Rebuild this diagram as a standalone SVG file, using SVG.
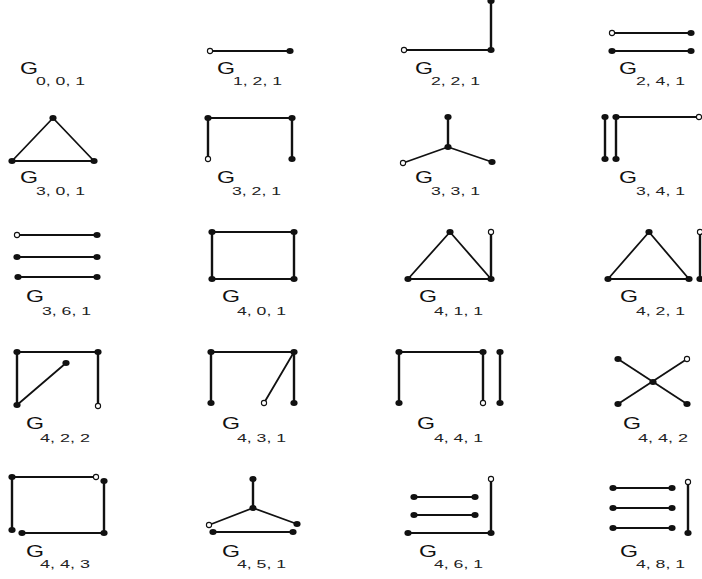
<svg xmlns="http://www.w3.org/2000/svg" xmlns:xlink="http://www.w3.org/1999/xlink" width="702" height="579" viewBox="0 0 702 579">
<style>
.e{stroke:#111;stroke-width:1.8;fill:none;stroke-linecap:round}
.v{stroke:#111;stroke-width:2.4;fill:none;stroke-linecap:round}
.g{font-family:"Liberation Sans",Arial,sans-serif;font-size:17px;fill:#111}
.s{font-family:"Liberation Sans",Arial,sans-serif;font-size:11px;fill:#222}
</style>
<defs>
<ellipse id="f" rx="3.6" ry="3" fill="#111"/>
<circle id="o" r="2.6" fill="#fff" stroke="#111" stroke-width="1.1"/>
</defs>
<rect width="702" height="579" fill="#fff"/>

<g id="connectors">
<line class="e" x1="210" y1="51" x2="290" y2="51"/>
<line class="v" x1="491" y1="1" x2="491" y2="50"/>
<line class="e" x1="404" y1="50" x2="491" y2="50"/>
<line class="e" x1="612" y1="33" x2="691" y2="33"/>
<line class="e" x1="612" y1="51" x2="691" y2="51"/>
<polygon class="e" points="53,118 12,161 94,161" stroke-linejoin="round"/>
<line class="e" x1="208" y1="118" x2="292" y2="118"/>
<line class="v" x1="208" y1="118" x2="208" y2="159"/>
<line class="v" x1="292" y1="118" x2="292" y2="159"/>
<line class="v" x1="448" y1="117" x2="448" y2="147"/>
<line class="e" x1="448" y1="147" x2="403" y2="163"/>
<line class="e" x1="448" y1="147" x2="492" y2="162"/>
<line class="v" x1="605" y1="117" x2="605" y2="159"/>
<line class="v" x1="616" y1="117" x2="616" y2="159"/>
<line class="e" x1="616" y1="117" x2="699" y2="117"/>
<line class="e" x1="17" y1="235" x2="97" y2="235"/>
<line class="e" x1="17" y1="257" x2="97" y2="257"/>
<line class="e" x1="18" y1="277" x2="97" y2="277"/>
<line class="e" x1="212" y1="232" x2="294" y2="232"/>
<line class="e" x1="212" y1="279" x2="294" y2="279"/>
<line class="v" x1="212" y1="232" x2="212" y2="279"/>
<line class="v" x1="294" y1="232" x2="294" y2="279"/>
<polygon class="e" points="450,232 408,279 491,279" stroke-linejoin="round"/>
<line class="v" x1="491" y1="232" x2="491" y2="279"/>
<polygon class="e" points="649,232 608,279 689,279" stroke-linejoin="round"/>
<line class="v" x1="700" y1="232" x2="700" y2="279"/>
<line class="e" x1="17" y1="352" x2="98" y2="352"/>
<line class="v" x1="17" y1="352" x2="17" y2="405"/>
<line class="v" x1="98" y1="352" x2="98" y2="406"/>
<line class="e" x1="17" y1="405" x2="66" y2="363"/>
<line class="e" x1="211" y1="352" x2="294" y2="352"/>
<line class="v" x1="211" y1="352" x2="211" y2="403"/>
<line class="v" x1="294" y1="352" x2="294" y2="403"/>
<line class="e" x1="294" y1="352" x2="264" y2="403"/>
<line class="e" x1="399" y1="352" x2="483" y2="352"/>
<line class="v" x1="399" y1="352" x2="399" y2="403"/>
<line class="v" x1="483" y1="352" x2="483" y2="403"/>
<line class="v" x1="500" y1="352" x2="500" y2="403"/>
<line class="e" x1="618" y1="359" x2="687" y2="404"/>
<line class="e" x1="687" y1="359" x2="618" y2="404"/>
<line class="e" x1="12" y1="477" x2="96" y2="477"/>
<line class="v" x1="12" y1="477" x2="12" y2="530"/>
<line class="v" x1="104" y1="481" x2="104" y2="533"/>
<line class="e" x1="22" y1="533" x2="104" y2="533"/>
<line class="v" x1="253" y1="479" x2="253" y2="508"/>
<line class="e" x1="253" y1="508" x2="209" y2="525"/>
<line class="e" x1="253" y1="508" x2="297" y2="524"/>
<line class="e" x1="213" y1="532" x2="293" y2="532"/>
<line class="e" x1="414" y1="497" x2="475" y2="497"/>
<line class="e" x1="414" y1="515" x2="475" y2="515"/>
<line class="e" x1="408" y1="533" x2="491" y2="533"/>
<line class="v" x1="491" y1="479" x2="491" y2="533"/>
<line class="e" x1="613" y1="488" x2="672" y2="488"/>
<line class="e" x1="613" y1="508" x2="672" y2="508"/>
<line class="e" x1="613" y1="528" x2="672" y2="528"/>
<line class="v" x1="688" y1="482" x2="688" y2="533"/>
</g>

<g id="G001">
<text class="g" x="20" y="74" textLength="18" lengthAdjust="spacingAndGlyphs">G</text>
<text class="s" x="36" y="85" textLength="49" lengthAdjust="spacingAndGlyphs">0, 0, 1</text>
</g>
<g id="G121">
<use xlink:href="#o" x="210" y="51"/><use xlink:href="#f" x="290" y="51"/>
<text class="g" x="217" y="74" textLength="18" lengthAdjust="spacingAndGlyphs">G</text>
<text class="s" x="233" y="85" textLength="49" lengthAdjust="spacingAndGlyphs">1, 2, 1</text>
</g>
<g id="G221">
<use xlink:href="#f" x="491" y="1"/><use xlink:href="#f" x="491" y="50"/><use xlink:href="#o" x="404" y="50"/>
<text class="g" x="415" y="74" textLength="18" lengthAdjust="spacingAndGlyphs">G</text>
<text class="s" x="431" y="85" textLength="49" lengthAdjust="spacingAndGlyphs">2, 2, 1</text>
</g>
<g id="G241">
<use xlink:href="#o" x="612" y="33"/><use xlink:href="#f" x="691" y="33"/>
<use xlink:href="#f" x="612" y="51"/><use xlink:href="#f" x="691" y="51"/>
<text class="g" x="619" y="74" textLength="18" lengthAdjust="spacingAndGlyphs">G</text>
<text class="s" x="636" y="85" textLength="49" lengthAdjust="spacingAndGlyphs">2, 4, 1</text>
</g>
<g id="G301">
<use xlink:href="#f" x="53" y="118"/><use xlink:href="#f" x="12" y="161"/><use xlink:href="#f" x="94" y="161"/>
<text class="g" x="20" y="183" textLength="18" lengthAdjust="spacingAndGlyphs">G</text>
<text class="s" x="36" y="195" textLength="49" lengthAdjust="spacingAndGlyphs">3, 0, 1</text>
</g>
<g id="G321">
<use xlink:href="#f" x="208" y="118"/><use xlink:href="#f" x="292" y="118"/>
<use xlink:href="#o" x="208" y="159"/><use xlink:href="#f" x="292" y="159"/>
<text class="g" x="217" y="183" textLength="18" lengthAdjust="spacingAndGlyphs">G</text>
<text class="s" x="232" y="195" textLength="49" lengthAdjust="spacingAndGlyphs">3, 2, 1</text>
</g>
<g id="G331">
<use xlink:href="#f" x="448" y="117"/><use xlink:href="#f" x="448" y="147"/>
<use xlink:href="#o" x="403" y="163"/><use xlink:href="#f" x="492" y="162"/>
<text class="g" x="415" y="183" textLength="18" lengthAdjust="spacingAndGlyphs">G</text>
<text class="s" x="431" y="195" textLength="49" lengthAdjust="spacingAndGlyphs">3, 3, 1</text>
</g>
<g id="G341">
<use xlink:href="#f" x="605" y="117"/><use xlink:href="#f" x="616" y="117"/>
<use xlink:href="#f" x="605" y="159"/><use xlink:href="#f" x="616" y="159"/>
<use xlink:href="#o" x="699" y="117"/>
<text class="g" x="619" y="183" textLength="18" lengthAdjust="spacingAndGlyphs">G</text>
<text class="s" x="636" y="195" textLength="49" lengthAdjust="spacingAndGlyphs">3, 4, 1</text>
</g>
<g id="G361">
<use xlink:href="#o" x="17" y="235"/><use xlink:href="#f" x="97" y="235"/>
<use xlink:href="#f" x="17" y="257"/><use xlink:href="#f" x="97" y="257"/>
<use xlink:href="#f" x="18" y="277"/><use xlink:href="#f" x="97" y="277"/>
<text class="g" x="26" y="302" textLength="18" lengthAdjust="spacingAndGlyphs">G</text>
<text class="s" x="42" y="315" textLength="49" lengthAdjust="spacingAndGlyphs">3, 6, 1</text>
</g>
<g id="G401">
<use xlink:href="#f" x="212" y="232"/><use xlink:href="#f" x="294" y="232"/>
<use xlink:href="#f" x="212" y="279"/><use xlink:href="#f" x="294" y="279"/>
<text class="g" x="222" y="302" textLength="18" lengthAdjust="spacingAndGlyphs">G</text>
<text class="s" x="237" y="315" textLength="49" lengthAdjust="spacingAndGlyphs">4, 0, 1</text>
</g>
<g id="G411">
<use xlink:href="#f" x="450" y="232"/><use xlink:href="#f" x="408" y="279"/><use xlink:href="#f" x="491" y="279"/>
<use xlink:href="#o" x="491" y="232"/>
<text class="g" x="419" y="302" textLength="18" lengthAdjust="spacingAndGlyphs">G</text>
<text class="s" x="434" y="315" textLength="49" lengthAdjust="spacingAndGlyphs">4, 1, 1</text>
</g>
<g id="G421">
<use xlink:href="#f" x="649" y="232"/><use xlink:href="#f" x="608" y="279"/><use xlink:href="#f" x="689" y="279"/>
<use xlink:href="#o" x="700" y="232"/><use xlink:href="#f" x="700" y="279"/>
<text class="g" x="620" y="302" textLength="18" lengthAdjust="spacingAndGlyphs">G</text>
<text class="s" x="636" y="315" textLength="49" lengthAdjust="spacingAndGlyphs">4, 2, 1</text>
</g>
<g id="G422">
<use xlink:href="#f" x="17" y="352"/><use xlink:href="#f" x="98" y="352"/>
<use xlink:href="#f" x="17" y="405"/><use xlink:href="#o" x="98" y="406"/>
<use xlink:href="#f" x="66" y="363"/>
<text class="g" x="26" y="429" textLength="18" lengthAdjust="spacingAndGlyphs">G</text>
<text class="s" x="40" y="442" textLength="50" lengthAdjust="spacingAndGlyphs">4, 2, 2</text>
</g>
<g id="G431">
<use xlink:href="#f" x="211" y="352"/><use xlink:href="#f" x="294" y="352"/>
<use xlink:href="#f" x="211" y="403"/><use xlink:href="#f" x="294" y="403"/>
<use xlink:href="#o" x="264" y="403"/>
<text class="g" x="222" y="429" textLength="18" lengthAdjust="spacingAndGlyphs">G</text>
<text class="s" x="237" y="442" textLength="49" lengthAdjust="spacingAndGlyphs">4, 3, 1</text>
</g>
<g id="G441">
<use xlink:href="#f" x="399" y="352"/><use xlink:href="#f" x="483" y="352"/><use xlink:href="#f" x="500" y="352"/>
<use xlink:href="#f" x="399" y="403"/><use xlink:href="#o" x="483" y="403"/><use xlink:href="#f" x="500" y="403"/>
<text class="g" x="417" y="429" textLength="18" lengthAdjust="spacingAndGlyphs">G</text>
<text class="s" x="434" y="442" textLength="49" lengthAdjust="spacingAndGlyphs">4, 4, 1</text>
</g>
<g id="G442">
<use xlink:href="#f" x="618" y="359"/><use xlink:href="#o" x="687" y="359"/>
<use xlink:href="#f" x="653" y="382"/>
<use xlink:href="#f" x="618" y="404"/><use xlink:href="#f" x="687" y="404"/>
<text class="g" x="623" y="429" textLength="18" lengthAdjust="spacingAndGlyphs">G</text>
<text class="s" x="638" y="442" textLength="50" lengthAdjust="spacingAndGlyphs">4, 4, 2</text>
</g>
<g id="G443">
<use xlink:href="#f" x="12" y="477"/><use xlink:href="#o" x="96" y="477"/>
<use xlink:href="#f" x="104" y="481"/><use xlink:href="#f" x="12" y="530"/>
<use xlink:href="#f" x="22" y="533"/><use xlink:href="#f" x="104" y="533"/>
<text class="g" x="26" y="557" textLength="18" lengthAdjust="spacingAndGlyphs">G</text>
<text class="s" x="40" y="568" textLength="50" lengthAdjust="spacingAndGlyphs">4, 4, 3</text>
</g>
<g id="G451">
<use xlink:href="#f" x="253" y="479"/><use xlink:href="#f" x="253" y="508"/>
<use xlink:href="#o" x="209" y="525"/><use xlink:href="#f" x="297" y="524"/>
<use xlink:href="#f" x="213" y="532"/><use xlink:href="#f" x="293" y="532"/>
<text class="g" x="222" y="557" textLength="18" lengthAdjust="spacingAndGlyphs">G</text>
<text class="s" x="237" y="568" textLength="49" lengthAdjust="spacingAndGlyphs">4, 5, 1</text>
</g>
<g id="G461">
<use xlink:href="#f" x="414" y="497"/><use xlink:href="#f" x="475" y="497"/>
<use xlink:href="#f" x="414" y="515"/><use xlink:href="#f" x="475" y="515"/>
<use xlink:href="#f" x="408" y="533"/><use xlink:href="#f" x="491" y="533"/>
<use xlink:href="#o" x="491" y="479"/>
<text class="g" x="419" y="557" textLength="18" lengthAdjust="spacingAndGlyphs">G</text>
<text class="s" x="434" y="568" textLength="49" lengthAdjust="spacingAndGlyphs">4, 6, 1</text>
</g>
<g id="G481">
<use xlink:href="#f" x="613" y="488"/><use xlink:href="#f" x="672" y="488"/>
<use xlink:href="#f" x="613" y="508"/><use xlink:href="#f" x="672" y="508"/>
<use xlink:href="#f" x="613" y="528"/><use xlink:href="#f" x="672" y="528"/>
<use xlink:href="#o" x="688" y="482"/><use xlink:href="#f" x="688" y="533"/>
<text class="g" x="620" y="557" textLength="18" lengthAdjust="spacingAndGlyphs">G</text>
<text class="s" x="636" y="568" textLength="49" lengthAdjust="spacingAndGlyphs">4, 8, 1</text>
</g>
</svg>
